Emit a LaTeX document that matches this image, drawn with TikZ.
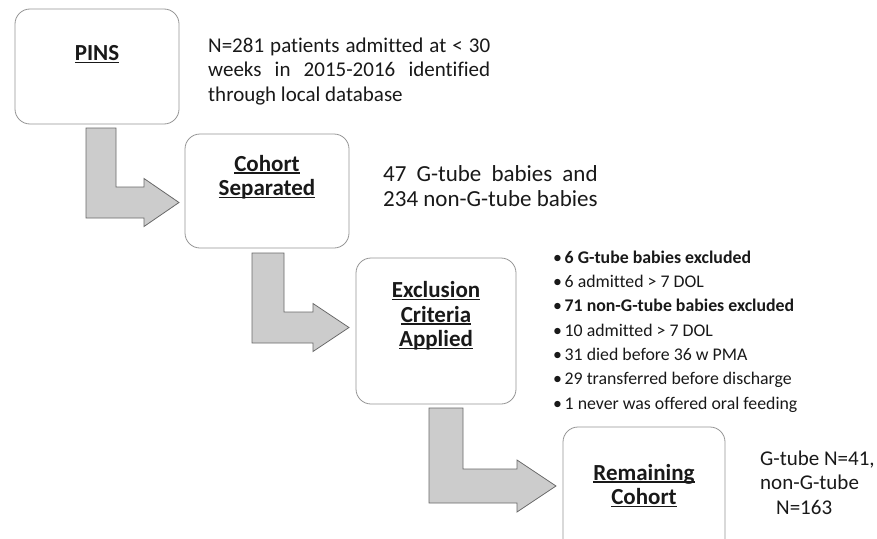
\documentclass[tikz,border=0pt]{standalone}
\usepackage{fontspec}
\setmainfont{Carlito}[Ligatures=NoCommon]
\usepackage{calc}
\usetikzlibrary{positioning,calc}
\definecolor{boxline}{RGB}{150,150,150}
\definecolor{arrowfill}{RGB}{204,204,204}
\definecolor{arrowline}{RGB}{105,105,105}
\definecolor{ink}{RGB}{25,25,25}
\newcommand{\hdr}[1]{\setbox0=\hbox{\bfseries #1}\rlap{\rule[-2.4pt]{\wd0}{1.3pt}}\box0}
\newcommand{\itm}[1]{\makebox[11.5pt][l]{\textbullet}#1}
% stem left, stem right, top, shaft top, shaft bottom, head start, head half, tip
\newcommand{\bendarrow}[8]{%
  \pgfmathsetmacro{\mid}{(#4+#5)/2}
  \draw[blockarrow] (#1,#3) -- (#2,#3) -- (#2,#4) -- (#6,#4) -- (#6,\mid-#7)
    -- (#8,\mid) -- (#6,\mid+#7) -- (#6,#5) -- (#1,#5) -- cycle;}
\tikzset{
  stage/.style={rectangle,rounded corners=15pt,draw=boxline,line width=0.8pt,fill=white,inner sep=0pt},
  title/.style={font=\fontsize{23}{24.5}\selectfont,align=center,text=ink,anchor=base,inner sep=0pt},
  note/.style={font=\fontsize{21}{24.5}\selectfont,align=left,text=ink,anchor=base west,inner sep=0pt},
  bullets/.style={font=\fontsize{17.8}{24.3}\selectfont,align=left,text=ink,anchor=base west,inner sep=0pt},
  blockarrow/.style={fill=arrowfill,draw=arrowline,line width=0.8pt},
}
\begin{document}
\begin{tikzpicture}[x=1pt,y=-1pt]
  \clip (0,0) rectangle (877,538);
  \fill[white] (0,0) rectangle (877,538);

  % stages
  \node[stage,minimum width=164pt,minimum height=115pt] (pins) at (97,66.5) {};
  \node[stage,minimum width=164pt,minimum height=114pt] (sep) at (267,191) {};
  \node[stage,minimum width=160pt,minimum height=146pt] (excl) at (436,331) {};
  \node[stage,minimum width=162pt,minimum height=146pt] (remain) at (644,500) {};

  % titles (anchor = baseline of the last line)
  \node[title] (pinsT) at ($(pins.north)+(0,52)$) {\hdr{PINS}};
  \node[title] (sepT) at ($(sep.north)+(0,62)$) {\hdr{Cohort}\\\hdr{Separated}};
  \node[title] (exclT) at ($(excl.north)+(0,89)$) {\hdr{Exclusion}\\\hdr{Criteria}\\\hdr{Applied}};
  \node[title] (remainT) at ($(remain.north)+(0,78)$) {\hdr{Remaining}\\\hdr{Cohort}};

  % bent block arrows
  \bendarrow{86}{116}{128}{187}{218}{144}{24}{179}
  \bendarrow{252}{284}{253}{312}{343}{313}{24}{349}
  \bendarrow{429}{463}{408}{469}{503}{517}{26}{556}

  % side notes
  \node[note] (pinsN) at (208,101) {\makebox[282pt][s]{N=281 patients admitted at < 30}\\
    \makebox[282pt][s]{weeks in 2015-2016 identified}\\
    through local database};
  \node[note,font=\fontsize{23}{24.5}\selectfont] (sepN) at (383,206)
    {\makebox[\widthof{234 non-G-tube babies}][s]{47 G-tube babies and}\\
    234 non-G-tube babies};
  \node[bullets] (exclN) at (553,409) {\itm{\textbf{6 G-tube babies excluded}}\\
    \itm{6 admitted > 7 DOL}\\
    \itm{\textbf{71 non-G-tube babies excluded}}\\
    \itm{10 admitted > 7 DOL}\\
    \itm{31 died before 36 w PMA}\\
    \itm{29 transferred before discharge}\\
    \itm{1 never was offered oral feeding}};
  \node[note] (remainN) at (760,514) {G-tube N=41,\\non-G-tube\\\hspace{16pt}N=163};
\end{tikzpicture}
\end{document}
